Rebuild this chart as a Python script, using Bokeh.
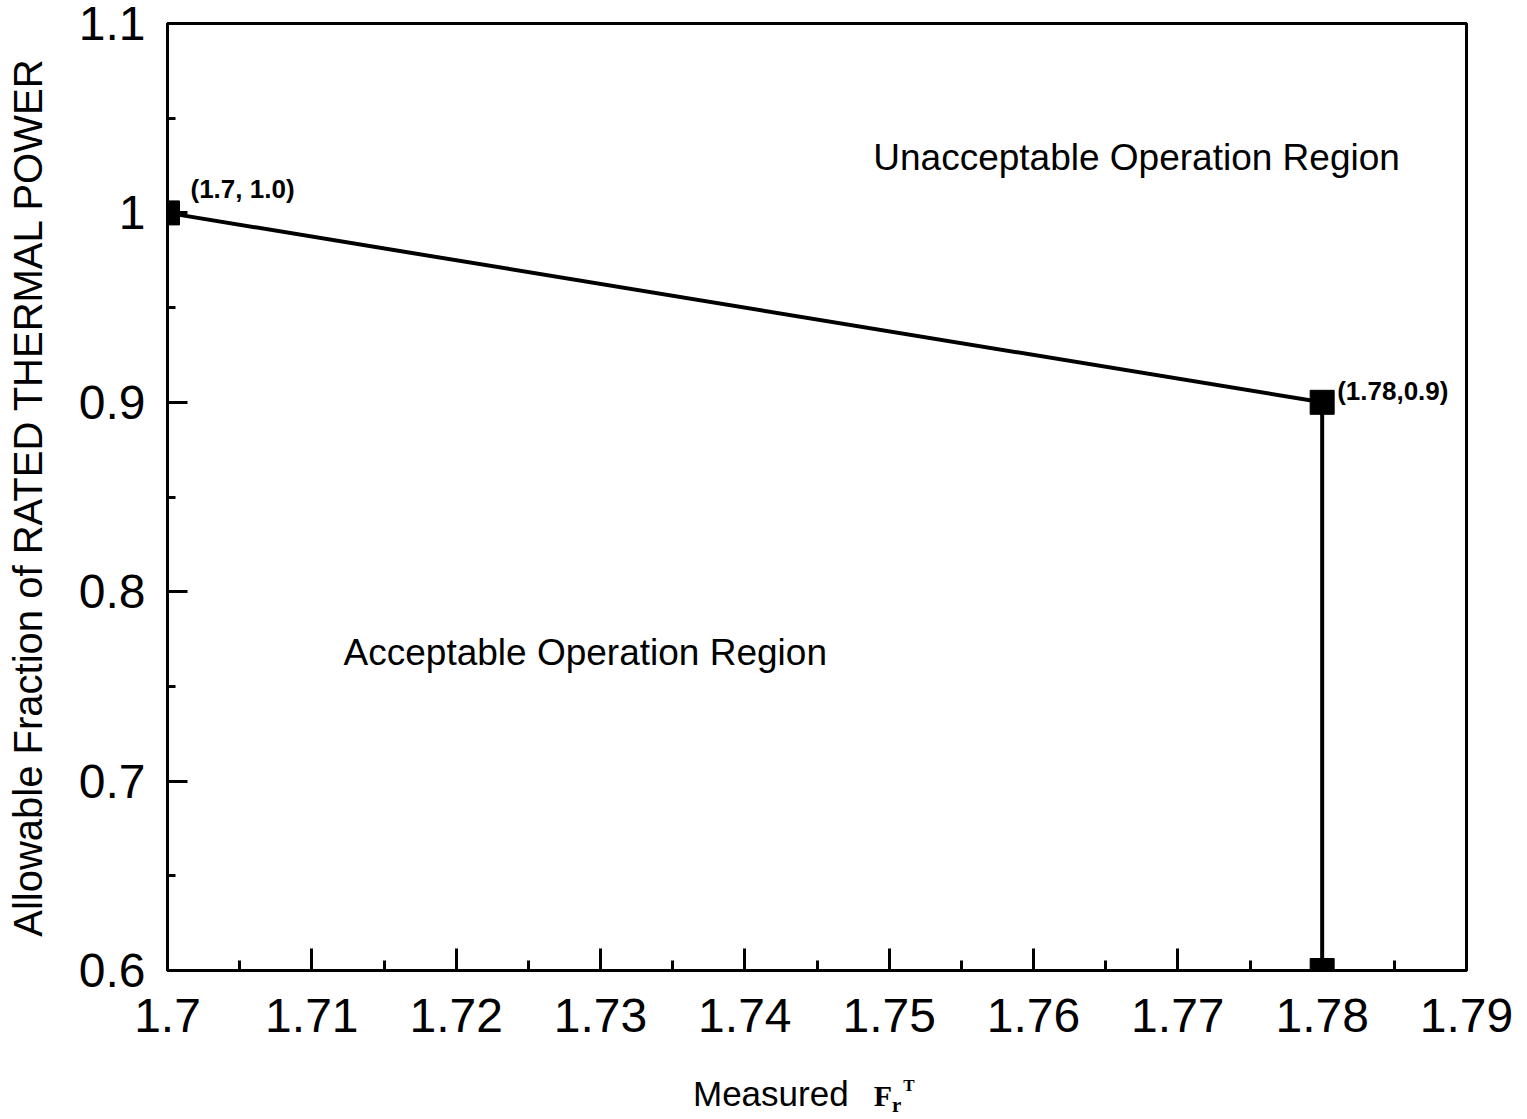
from bokeh.plotting import figure
from bokeh.models import Range1d, FixedTicker, Label, Div
from bokeh.layouts import column
from bokeh.embed import file_html
from bokeh.resources import INLINE

# data
boundary_x = [1.70, 1.78, 1.78]
boundary_y = [1.0, 0.9, 0.6]
x_ticks = [1.70, 1.71, 1.72, 1.73, 1.74, 1.75, 1.76, 1.77, 1.78, 1.79]
x_tick_labels = ["1.7", "1.71", "1.72", "1.73", "1.74", "1.75", "1.76", "1.77", "1.78", "1.79"]
x_minor = [1.705, 1.715, 1.725, 1.735, 1.745, 1.755, 1.765, 1.775, 1.785]
y_ticks = [0.6, 0.7, 0.8, 0.9, 1.0, 1.1]
y_tick_labels = ["0.6", "0.7", "0.8", "0.9", "1", "1.1"]
y_minor = [0.65, 0.75, 0.85, 0.95, 1.05]
point_labels = ["(1.7, 1.0)", "(1.78,0.9)"]
region_labels = ["Unacceptable Operation Region", "Acceptable Operation Region"]
y_title = "Allowable Fraction of RATED THERMAL POWER"

SANS = "Liberation Sans"

p = figure(width=1527, height=1060, output_backend="svg", toolbar_location=None,
           x_range=Range1d(1.70, 1.79), y_range=Range1d(0.6, 1.1),
           min_border_left=167, min_border_right=61, min_border_top=23, min_border_bottom=90)
p.background_fill_color = "white"
p.border_fill_color = "white"
p.grid.visible = False
p.outline_line_color = "black"
p.outline_line_width = 3

p.xaxis.ticker = FixedTicker(ticks=x_ticks, minor_ticks=x_minor)
p.yaxis.ticker = FixedTicker(ticks=y_ticks, minor_ticks=y_minor)
p.xaxis.major_label_overrides = {t: l for t, l in zip(x_ticks, x_tick_labels)}
p.yaxis.major_label_overrides = {t: l for t, l in zip(y_ticks, y_tick_labels)}

for ax in (p.xaxis, p.yaxis):
    ax.axis_line_color = "black"
    ax.axis_line_width = 3
    ax.major_tick_line_color = "black"
    ax.major_tick_line_width = 3
    ax.minor_tick_line_color = "black"
    ax.minor_tick_line_width = 3
    ax.major_tick_out = 0
    ax.minor_tick_out = 0
    ax.major_label_text_font = SANS
    ax.major_label_text_font_size = "48px"
    ax.major_label_text_color = "black"

p.xaxis.major_tick_in = 22
p.xaxis.minor_tick_in = 10
p.xaxis.major_label_standoff = 28
p.yaxis.major_tick_in = 20
p.yaxis.minor_tick_in = 8
p.yaxis.major_label_standoff = 22

p.yaxis.axis_label = y_title
p.yaxis.axis_label_text_font = SANS
p.yaxis.axis_label_text_font_style = "normal"
p.yaxis.axis_label_text_font_size = "40px"
p.yaxis.axis_label_text_color = "black"
p.yaxis.axis_label_standoff = 26

# boundary line and markers
p.line(boundary_x, boundary_y, line_color="black", line_width=4)
p.scatter(boundary_x, boundary_y, marker="square", size=24, color="black")

# point annotations
p.add_layout(Label(x=boundary_x[0], y=boundary_y[0], text=point_labels[0], x_offset=23, y_offset=24,
                   text_font=SANS, text_font_style="bold", text_font_size="26px", text_color="black",
                   text_baseline="middle", text_align="left"))
p.add_layout(Label(x=boundary_x[1], y=boundary_y[1], text=point_labels[1], x_offset=15, y_offset=11,
                   text_font=SANS, text_font_style="bold", text_font_size="26px", text_color="black",
                   text_baseline="middle", text_align="left"))

# region texts
p.add_layout(Label(x=1.7489, y=1.0293, text=region_labels[0], text_font=SANS, text_color="black",
                   text_font_size="37px", text_baseline="middle", text_align="left"))
p.add_layout(Label(x=1.7122, y=0.7679, text=region_labels[1], text_font=SANS, text_color="black",
                   text_font_size="37px", text_baseline="middle", text_align="left"))

# x axis title: "Measured F_r^T"
x_title_html = (
    '<div style="position:relative; left:688px; top:11px; line-height:1; white-space:nowrap; '
    "font-family:'Liberation Sans'; font-size:35px; color:black;\">Measured"
    "<span style=\"font-family:'Liberation Serif'; font-weight:bold; font-size:30px; margin-left:25px;\">F"
    '<sub style="font-size:21px; vertical-align:-6px;">r</sub>'
    '<sup style="font-size:17px; vertical-align:15px; margin-left:2px;">T</sup></span></div>'
)
title_div = Div(text=x_title_html, width=1527, height=59)

layout = column(p, title_div, spacing=0)
open("out.html", "w").write(file_html(layout, INLINE))
